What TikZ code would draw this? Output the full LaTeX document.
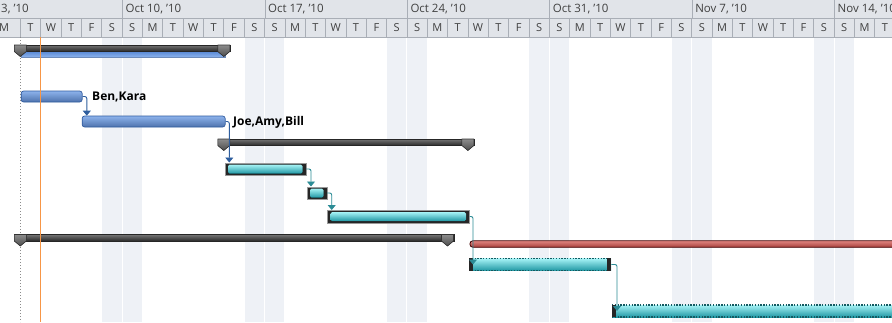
\documentclass[tikz,border=0pt]{standalone}
\usepackage{fontspec}
\setmainfont{Open Sans}
\usetikzlibrary{arrows.meta,calc}
\definecolor{hdr}{HTML}{E1E4E9}
\definecolor{hline}{HTML}{A9AEB6}
\definecolor{htext}{HTML}{404040}
\definecolor{wkend}{HTML}{EEF1F6}
\definecolor{bblueL}{HTML}{8DB3EC}
\definecolor{bblueM}{HTML}{5A8AD6}
\definecolor{bblueD}{HTML}{2F5A9E}
\definecolor{cyL}{HTML}{A6F3F6}
\definecolor{cyM}{HTML}{55DCE4}
\definecolor{cyD}{HTML}{2198A4}
\definecolor{tealC}{HTML}{2C8C96}
\definecolor{blueC}{HTML}{2F5E9E}
\definecolor{redL}{HTML}{E08580}
\definecolor{redD}{HTML}{A8403C}
\definecolor{orangeL}{HTML}{F79646}
\begin{document}
\begin{tikzpicture}[x=1pt,y=-1pt,
  hl/.style={draw=hline,line width=0.6pt},
  daylbl/.style={text=htext,font=\fontsize{11}{12}\selectfont,inner sep=0pt},
  wklbl/.style={text=htext,font=\fontsize{11.5}{12}\selectfont,inner sep=0pt,anchor=west},
  reslbl/.style={text=black,font=\bfseries\fontsize{12}{13}\selectfont,inner sep=0pt,anchor=west},
  bluebar/.style={rectangle,rounded corners=2.5pt,minimum height=11pt,inner sep=0pt,anchor=west,
    draw=bblueD,line width=0.7pt,top color=bblueL,middle color=bblueM,bottom color=bblueD!85},
  basebar/.style={rectangle,minimum height=5.5pt,inner sep=0pt,anchor=west,
    draw=bblueD!70,line width=0.5pt,top color=bblueM,bottom color=bblueL},
  sumbar/.style={rectangle,minimum height=6.5pt,inner sep=0pt,anchor=west,
    draw=black!85,line width=0.6pt,top color=black!55,middle color=black!70,bottom color=black!85},
  critbar/.style={rectangle,minimum height=12.5pt,inner sep=0pt,anchor=west,
    draw=black!40,line width=0.5pt,fill=black!85},
  cyfill/.style={top color=cyL,middle color=cyM,bottom color=cyD},
  dotbar/.style={rectangle,minimum height=12pt,inner sep=0pt,anchor=west,
    top color=cyL,middle color=cyM,bottom color=cyD},
  dotedge/.style={draw=cyD!60!black,line width=1.5pt,dash pattern=on 1.4pt off 1.4pt},
  redbar/.style={rectangle,minimum height=6.5pt,inner sep=0pt,anchor=west,rounded corners=3pt,
    draw=black!75!red,line width=0.8pt,top color=redL,middle color=redD!90,bottom color=redD},
  connB/.style={draw=blueC,line width=0.9pt,rounded corners=2pt,-{Triangle[width=8pt,length=5pt]}},
  connT/.style={draw=tealC,line width=0.9pt,rounded corners=2pt,-{Triangle[width=8pt,length=5pt]}},
  capm/.pic={\filldraw[draw=black!80,line width=0.6pt,top color=black!45,bottom color=black!70]
     (-6,0) -- (6,0) -- (6,6.5) -- (0,11.5) -- (-6,6.5) -- cycle;}
]
\useasboundingbox (0,0) rectangle (892,322);
\clip (0,0) rectangle (892,322);
\fill[white] (0,0) rectangle (892,322);
% weekend shading
\foreach \k in {0,...,6}{
  \fill[wkend] ({(5+7*\k)*20.343+0.5},37) rectangle ({(6+7*\k)*20.343-0.5},322);
  \fill[wkend] ({(6+7*\k)*20.343+0.5},37) rectangle ({(7+7*\k)*20.343-0.5},322);
}
% header
\fill[hdr] (0,0) rectangle (892,37);
\draw[hl] (0,18.5) -- (892,18.5);
\draw[hl] (0,37) -- (892,37);
\foreach \k in {0,...,5} \draw[hl] ({122.4+142.4*\k},0) -- ++(0,18.5);
\foreach \d in {1,...,43} \draw[hl] ({20.343*\d},18.5) -- ++(0,18.5);
\node[daylbl] (dM0) at (4,27.8) {M};
\foreach \d/\l in {1/T,2/W,3/T,4/F,5/S,6/S,7/M,8/T,9/W,10/T,11/F,12/S,13/S,
  14/M,15/T,16/W,17/T,18/F,19/S,20/S,21/M,22/T,23/W,24/T,25/F,26/S,27/S,
  28/M,29/T,30/W,31/T,32/F,33/S,34/S,35/M,36/T,37/W,38/T,39/F,40/S,41/S,42/M,43/T}
    \node[daylbl] at ({20.343*\d+10.17},27.8) {\l};
\node[wklbl] (w0) at (1,9.5) {3, '10};
\node[wklbl] (w1) at (125.5,9.5) {Oct 10, '10};
\node[wklbl] (w2) at (267.9,9.5) {Oct 17, '10};
\node[wklbl] (w3) at (410.3,9.5) {Oct 24, '10};
\node[wklbl] (w4) at (552.7,9.5) {Oct 31, '10};
\node[wklbl] (w5) at (695.1,9.5) {Nov 7, '10};
\node[wklbl] (w6) at (837.5,9.5) {Nov 14, '10};
% project start dotted line
\draw[black!45,line width=0.8pt,dash pattern=on 1pt off 2pt] (20.3,37) -- (20.3,322);
% row 1 summary
\node[basebar,minimum width=204pt] (b0) at (20.8,54.3) {};
\node[sumbar,minimum width=215pt] (s0) at (14.5,48.3) {};
\pic at (20.3,45) {capm};
\pic at (223.8,45) {capm};
% tasks
\node[bluebar,minimum width=61pt] (t1) at (20.8,96.5) {};
\node[reslbl] (l1) at (92,97) {Ben,Kara};
\node[bluebar,minimum width=143pt] (t2) at (81.8,121.5) {};
\node[reslbl] (l2) at (233,122) {Joe,Amy,Bill};
% row 4 summary
\node[sumbar,minimum width=256pt] (s1) at (218,142.5) {};
\pic at (223.8,139) {capm};
\pic at (467.9,139) {capm};
% critical cyan tasks
\node[critbar,minimum width=81pt] (c1) at (224.5,169) {};
\fill[cyfill,rounded corners=1.5pt] ([shift={(3.5,2)}]c1.north west) rectangle ([shift={(-3.5,-2)}]c1.south east);
\node[critbar,minimum width=20pt] (c2) at (306.5,193) {};
\fill[cyfill,rounded corners=1.5pt] ([shift={(3.5,2)}]c2.north west) rectangle ([shift={(-3.5,-2)}]c2.south east);
\node[critbar,minimum width=142pt] (c3) at (327,216.5) {};
\fill[cyfill,rounded corners=1.5pt] ([shift={(3.5,2)}]c3.north west) rectangle ([shift={(-3.5,-2)}]c3.south east);
% row 8 summary
\node[sumbar,minimum width=439pt] (s2) at (14.5,238) {};
\pic at (20.3,234.5) {capm};
\pic at (447.5,234.5) {capm};
% red bar
\node[redbar,minimum width=440pt] (r1) at (469.5,244) {};
% dotted tasks
\node[dotbar,minimum width=142pt] (c4) at (469,264.5) {};
\draw[dotedge] (c4.north west) -- (c4.north east);
\draw[dotedge] (c4.south west) -- (c4.south east);
\fill[black!85] (c4.north west) rectangle ([xshift=4pt]c4.south west);
\fill[black!85] (c4.north east) rectangle ([xshift=-4pt]c4.south east);
\node[dotbar,minimum width=300pt] (c5) at (612,311) {};
\draw[dotedge] (c5.north west) -- (c5.north east);
\draw[dotedge] (c5.south west) -- (c5.south east);
\fill[black!85] (c5.north west) rectangle ([xshift=4pt]c5.south west);
% status date line
\draw[orangeL,line width=1.3pt] (40.5,37) -- (40.5,322);
% connectors
\draw[connB] (t1.east) -| ($(t2.north west)+(5,0)$);
\draw[connB] (t2.east) -| ($(c1.north west)+(4.8,0)$);
\draw[connT] (c1.east) -| ($(c2.north west)+(4.5,0)$);
\draw[connT] (c2.east) -| ($(c3.north west)+(4.7,0)$);
\draw[connT] (c3.east) -| ($(c4.west)+(4,0)$);
\draw[connT] (c4.east) -| ($(c5.west)+(5,0)$);
\end{tikzpicture}
\end{document}
